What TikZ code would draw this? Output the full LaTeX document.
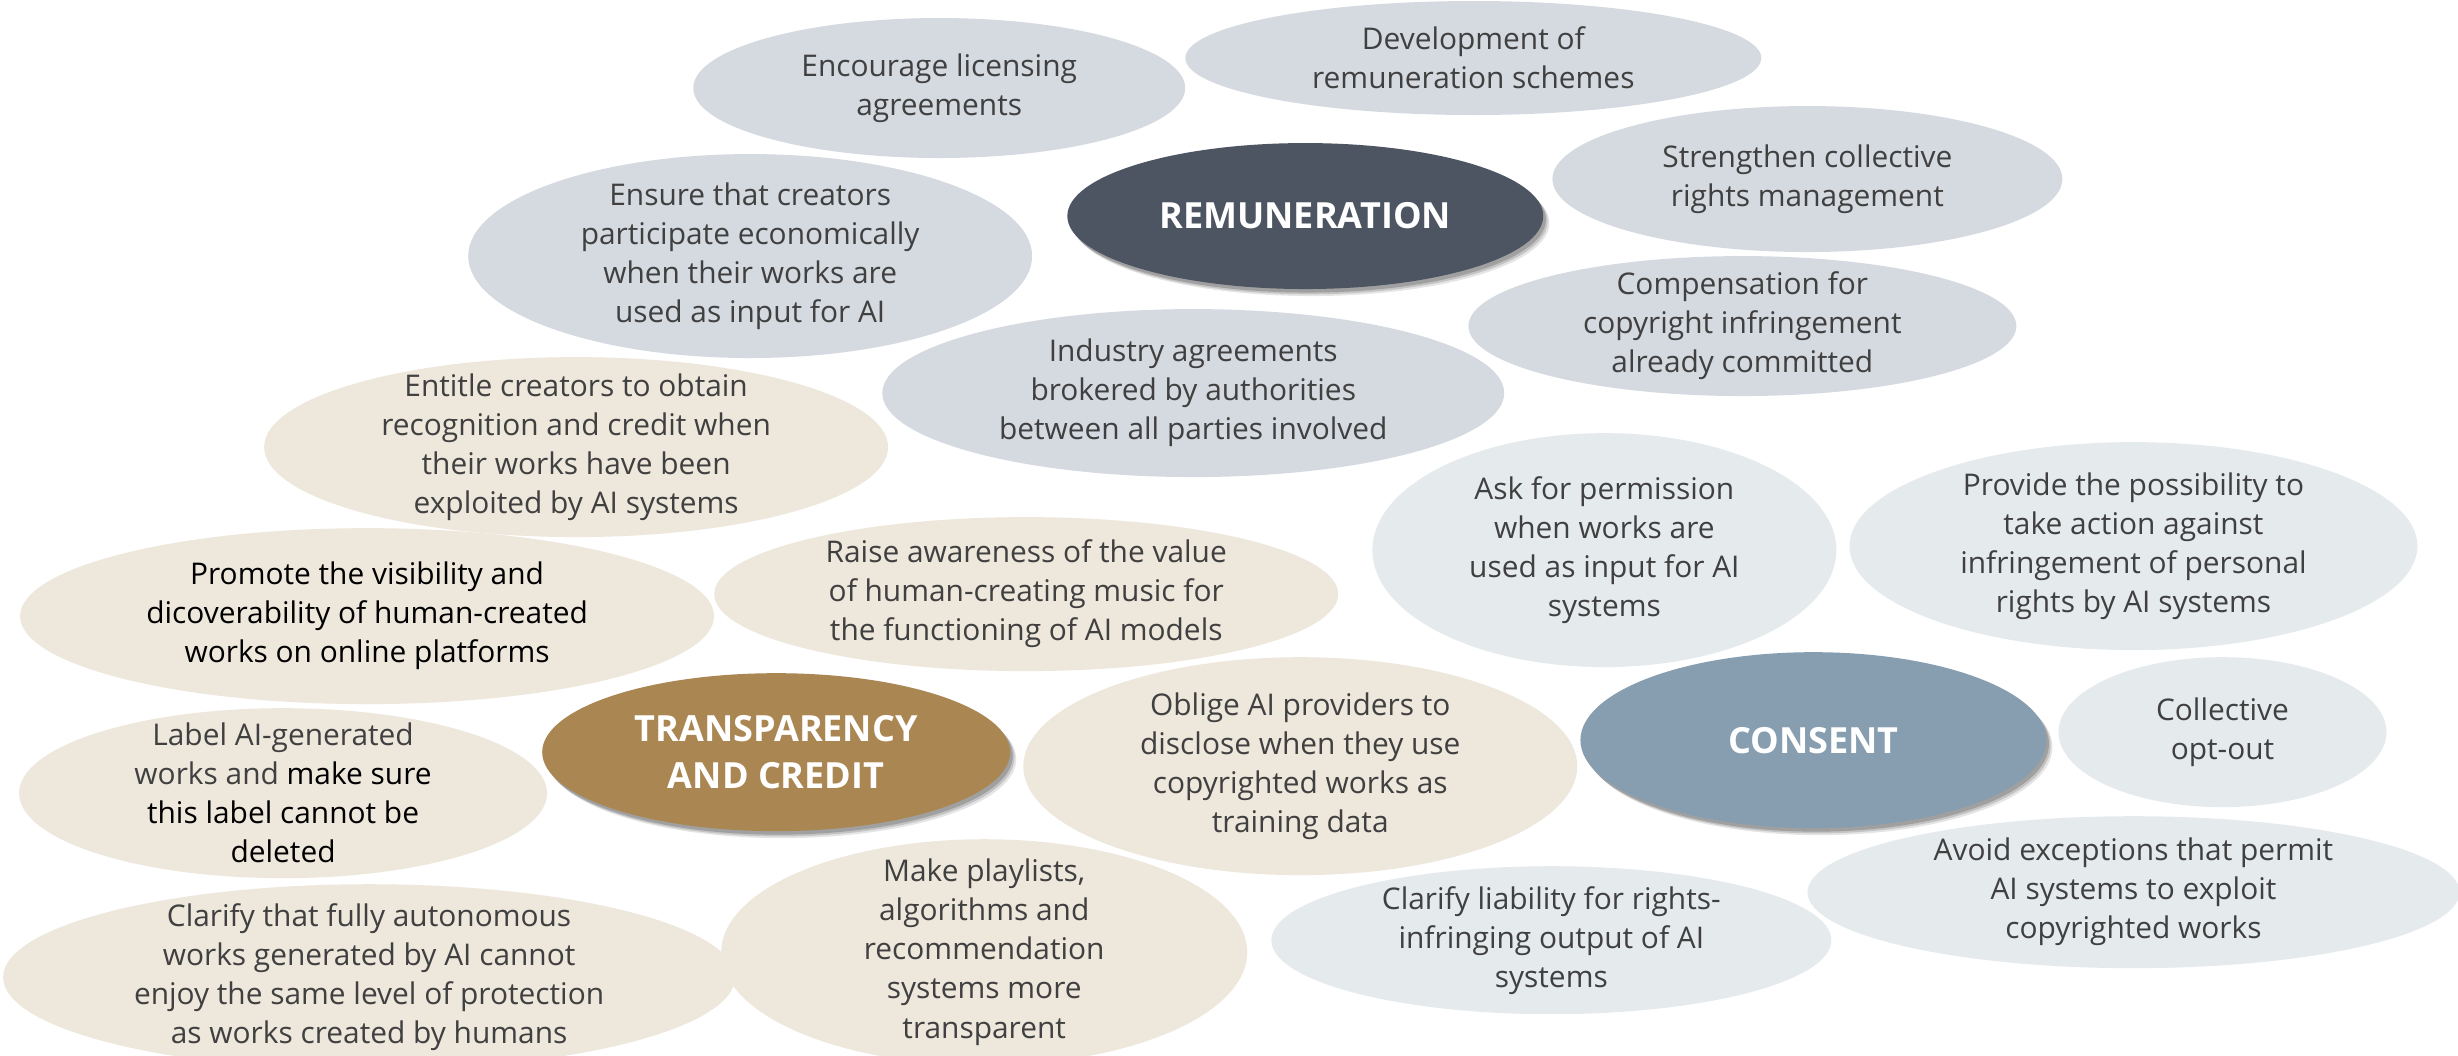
\documentclass[tikz,border=0pt]{standalone}
\usepackage{fontspec}
\setmainfont{Open Sans}
\usetikzlibrary{shapes.geometric,shadows}
\definecolor{remL}{HTML}{D5D9E0}
\definecolor{remD}{HTML}{4E5562}
\definecolor{traL}{HTML}{EDE7DC}
\definecolor{traD}{HTML}{AA8752}
\definecolor{conL}{HTML}{E5EAED}
\definecolor{conD}{HTML}{869EB0}
\definecolor{txtgray}{HTML}{404040}
\tikzset{
  bubshape/.style={ellipse, draw=none, inner sep=0pt},
  bubtext/.style={align=center, inner sep=0pt, text=txtgray,
    font=\fontsize{17}{22.2}\selectfont},
  hubtext/.style={align=center, inner sep=0pt, text=white,
    font=\fontsize{20.5}{26.7}\selectfont\bfseries},
  hubshadow/.style={
    drop shadow={shadow xshift=3.5pt, shadow yshift=-4pt, opacity=0.10, fill=black},
    drop shadow={shadow xshift=2.5pt, shadow yshift=-3pt, opacity=0.14, fill=black},
    drop shadow={shadow xshift=1.5pt, shadow yshift=-2pt, opacity=0.18, fill=black}}
}
% name, cx, cy, rx, ry (pixels), fill, extra style, text
\newcommand{\bub}[8]{%
  \pgfmathsetmacro{\bubW}{#4*0.04}\pgfmathsetmacro{\bubH}{#5*0.04}%
  \node[bubshape, fill=#6, minimum width=\bubW cm, minimum height=\bubH cm] (#1) at ({#2*0.02},{-#3*0.02}) {};
  \node[bubtext, #7] (#1t) at (#1.center) {#8};}
\newcommand{\hub}[7]{%
  \pgfmathsetmacro{\bubW}{#4*0.04}\pgfmathsetmacro{\bubH}{#5*0.04}%
  \node[bubshape, fill=#6, hubshadow, minimum width=\bubW cm, minimum height=\bubH cm] (#1) at ({#2*0.02},{-#3*0.02}) {};
  \node[hubtext] (#1t) at (#1.center) {#7};}
\begin{document}
\begin{tikzpicture}
\clip (0,0) rectangle (49.16,-21.1);
\fill[white] (0,0) rectangle (49.16,-21.1);
% Remuneration group
\bub{enc}{939}{88}{246}{70}{remL}{}{Encourage licensing\\agreements}
\bub{dev}{1473}{58}{288}{57}{remL}{}{Development of\\remuneration schemes}
\bub{str}{1807}{179}{255}{73}{remL}{}{Strengthen collective\\rights management}
\bub{ens}{750}{256}{282}{102}{remL}{}{Ensure that creators\\participate economically\\when their works are\\used as input for AI}
\bub{com}{1742}{326}{274}{70}{remL}{}{Compensation for\\copyright infringement\\already committed}
\bub{ind}{1193}{393}{311}{84}{remL}{}{Industry agreements\\brokered by authorities\\between all parties involved}
% Transparency group
\bub{ent}{576}{447}{312}{90}{traL}{}{Entitle creators to obtain\\recognition and credit when\\their works have been\\exploited by AI systems}
\bub{prm}{367}{616}{347}{88}{traL}{text=black}{Promote the visibility and\\dicoverability of human-created\\works on online platforms}
\bub{rai}{1026}{594}{312}{77}{traL}{}{Raise awareness of the value\\of human-creating music for\\the functioning of AI models}
\bub{lab}{283}{793}{264}{85}{traL}{text=black}{\textcolor{txtgray}{Label AI-generated}\\\textcolor{txtgray}{works and} make sure\\this label cannot be\\deleted}
\bub{obl}{1300}{766}{277}{109}{traL}{}{Oblige AI providers to\\disclose when they use\\copyrighted works as\\training data}
\bub{cla}{369}{977}{366}{93}{traL}{}{Clarify that fully autonomous\\works generated by AI cannot\\enjoy the same level of protection\\as works created by humans}
\bub{mak}{984}{952}{263}{113}{traL}{}{Make playlists,\\algorithms and\\recommendation\\systems more\\transparent}
% Consent group
\bub{ask}{1604}{550}{232}{117}{conL}{}{Ask for permission\\when works are\\used as input for AI\\systems}
\bub{prv}{2133}{546}{284}{104}{conL}{}{Provide the possibility to\\take action against\\infringement of personal\\rights by AI systems}
\bub{col}{2222}{732}{164}{75}{conL}{}{Collective\\opt-out}
\bub{lia}{1551}{940}{280}{74}{conL}{}{Clarify liability for rights-\\infringing output of AI\\systems}
\bub{avo}{2133}{892}{326}{76}{conL}{}{Avoid exceptions that permit\\AI systems to exploit\\copyrighted works}
% Hubs
\hub{rem}{1305}{216}{238}{73}{remD}{REMUNERATION}
\hub{tra}{776}{752}{234}{79}{traD}{TRANSPARENCY\\AND CREDIT}
\hub{con}{1813}{740}{233}{88}{conD}{CONSENT}
\end{tikzpicture}
\end{document}
